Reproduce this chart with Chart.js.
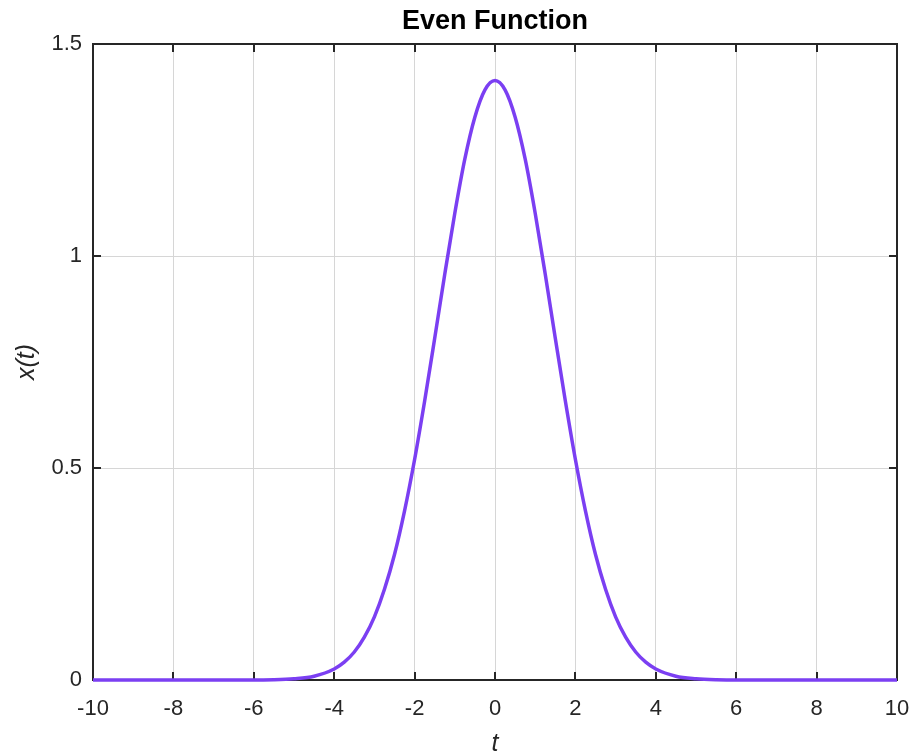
<!DOCTYPE html>
<html>
<head>
<meta charset="utf-8">
<title>Even Function</title>
<script src="https://cdn.jsdelivr.net/npm/chart.js@4.4.1/dist/chart.umd.min.js"></script>
<style>
  html, body { margin: 0; padding: 0; background: #fff; }
  #wrap { width: 914px; height: 755px; }
</style>
</head>
<body>
<div id="wrap"><canvas id="EvenChart" width="914" height="755"></canvas></div>
<script>
// values
const tValues = [-10, -9, -8, -7, -6, -5.5, -5, -4.5, -4, -3.75, -3.5, -3.25, -3, -2.75, -2.5, -2.25, -2,
  -1.75, -1.5, -1.25, -1, -0.75, -0.5, -0.25, 0, 0.25, 0.5, 0.75, 1, 1.25, 1.5, 1.75,
  2, 2.25, 2.5, 2.75, 3, 3.25, 3.5, 3.75, 4, 4.5, 5, 5.5, 6, 7, 8, 9, 10];
const xValues = [0, 0, 0, 0, 0.0002, 0.0007, 0.003, 0.009, 0.026, 0.042, 0.066, 0.101, 0.149, 0.214, 0.296, 0.399, 0.52,
  0.658, 0.806, 0.957, 1.101, 1.229, 1.328, 1.392, 1.414, 1.392, 1.328, 1.229, 1.101, 0.957, 0.806, 0.658,
  0.52, 0.399, 0.296, 0.214, 0.149, 0.101, 0.066, 0.042, 0.026, 0.009, 0.003, 0.0007, 0.0002, 0, 0, 0, 0];
const xTicks = [-10, -8, -6, -4, -2, 0, 2, 4, 6, 8, 10];
const yTicks = [0, 0.5, 1, 1.5];

const axisColor = '#262626';
const fontFamily = '"Liberation Sans", Arial, Helvetica, sans-serif';
const tickLen = 8;

// box round the plot, inward ticks, title and axis labels (matlab look)
const matlabAxes = {
  id: 'matlabAxes',
  beforeDatasetsDraw(chart) {
    const { ctx, chartArea: a, scales } = chart;
    ctx.save();
    ctx.strokeStyle = axisColor;
    ctx.lineWidth = 2;
    ctx.strokeRect(a.left, a.top, a.right - a.left, a.bottom - a.top);
    ctx.beginPath();
    xTicks.forEach((v) => {
      const px = Math.round(scales.x.getPixelForValue(v));
      ctx.moveTo(px, a.bottom); ctx.lineTo(px, a.bottom - tickLen);
      ctx.moveTo(px, a.top); ctx.lineTo(px, a.top + tickLen);
    });
    yTicks.forEach((v) => {
      const py = Math.round(scales.y.getPixelForValue(v));
      ctx.moveTo(a.left, py); ctx.lineTo(a.left + tickLen, py);
      ctx.moveTo(a.right, py); ctx.lineTo(a.right - tickLen, py);
    });
    ctx.stroke();
    ctx.restore();
  },
  afterDraw(chart) {
    const { ctx, chartArea: a } = chart;
    const cx = (a.left + a.right) / 2;
    ctx.save();
    ctx.fillStyle = '#000';
    ctx.textAlign = 'center';
    ctx.textBaseline = 'middle';
    ctx.font = 'bold 27px ' + fontFamily;
    ctx.fillText('Even Function', cx, 22);

    ctx.fillStyle = axisColor;
    ctx.font = 'italic 25px ' + fontFamily;
    ctx.fillText('t', cx, 744);

    ctx.translate(27, (a.top + a.bottom) / 2);
    ctx.rotate(-Math.PI / 2);
    ctx.fillText('x(t)', 0, 0);
    ctx.restore();
  }
};

new Chart(document.getElementById('EvenChart'), {
  type: 'line',
  data: {
    datasets: [{
      data: tValues.map((t, i) => ({ x: t, y: xValues[i] })),
      borderColor: '#7b3ff2',
      borderWidth: 3.5,
      pointRadius: 0,
      cubicInterpolationMode: 'monotone',
      clip: 4
    }]
  },
  options: {
    responsive: false,
    animation: false,
    layout: { padding: { left: 0, right: 17, top: 44, bottom: 0 } },
    plugins: {
      legend: { display: false },
      tooltip: { enabled: false },
      title: { display: false }
    },
    scales: {
      x: {
        type: 'linear',
        min: -10,
        max: 10,
        afterFit: (scale) => {
          scale.height = 75;
          scale.paddingLeft = 0;
          scale.paddingRight = 0;
        },
        afterBuildTicks: (scale) => { scale.ticks = xTicks.map((v) => ({ value: v })); },
        grid: { color: '#d6d6d6', lineWidth: 1, drawTicks: false },
        border: { display: false },
        ticks: {
          padding: 16,
          color: axisColor,
          font: { family: fontFamily, size: 22 },
          maxRotation: 0
        }
      },
      y: {
        type: 'linear',
        min: 0,
        max: 1.5,
        afterFit: (scale) => {
          scale.width = 93;
          scale.paddingTop = 0;
          scale.paddingBottom = 0;
        },
        afterBuildTicks: (scale) => { scale.ticks = yTicks.map((v) => ({ value: v })); },
        grid: { color: '#d6d6d6', lineWidth: 1, drawTicks: false },
        border: { display: false },
        ticks: {
          padding: 11,
          color: axisColor,
          font: { family: fontFamily, size: 22 },
          callback: (v) => String(v)
        }
      }
    }
  },
  plugins: [matlabAxes]
});
</script>
</body>
</html>
